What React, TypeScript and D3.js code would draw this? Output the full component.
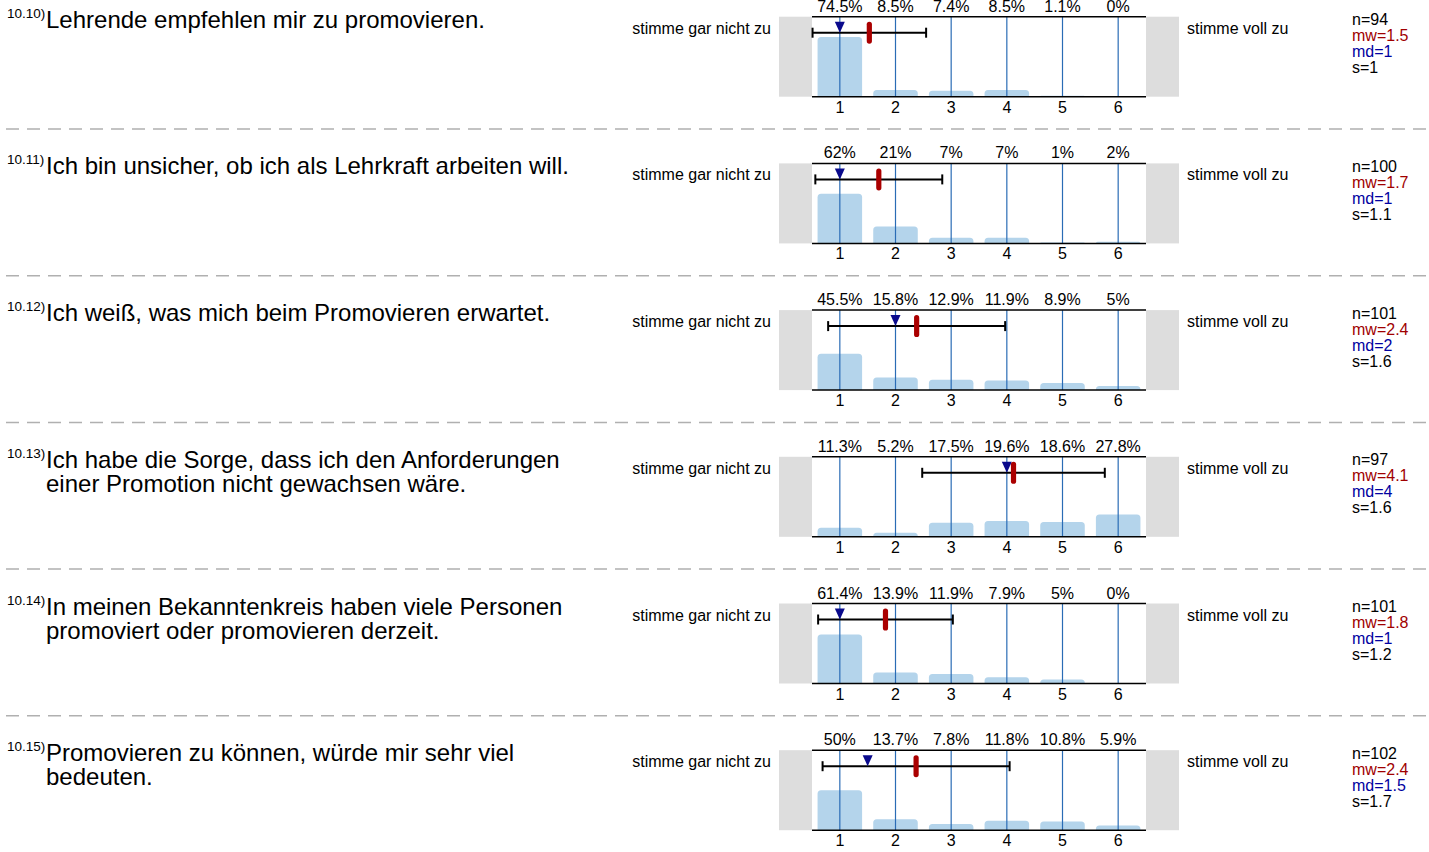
import React from "react";
import * as d3 from "d3";

const questionIds = ["10.10)", "10.11)", "10.12)", "10.13)", "10.14)", "10.15)"];
const questionTexts = [
  ["Lehrende empfehlen mir zu promovieren."],
  ["Ich bin unsicher, ob ich als Lehrkraft arbeiten will."],
  ["Ich weiß, was mich beim Promovieren erwartet."],
  ["Ich habe die Sorge, dass ich den Anforderungen", "einer Promotion nicht gewachsen wäre."],
  ["In meinen Bekanntenkreis haben viele Personen", "promoviert oder promovieren derzeit."],
  ["Promovieren zu können, würde mir sehr viel", "bedeuten."],
];
const categories = [1, 2, 3, 4, 5, 6];
const pctValues = [
  [74.5, 8.5, 7.4, 8.5, 1.1, 0],
  [62, 21, 7, 7, 1, 2],
  [45.5, 15.8, 12.9, 11.9, 8.9, 5],
  [11.3, 5.2, 17.5, 19.6, 18.6, 27.8],
  [61.4, 13.9, 11.9, 7.9, 5, 0],
  [50, 13.7, 7.8, 11.8, 10.8, 5.9],
];
const pctLabels = [
  ["74.5%", "8.5%", "7.4%", "8.5%", "1.1%", "0%"],
  ["62%", "21%", "7%", "7%", "1%", "2%"],
  ["45.5%", "15.8%", "12.9%", "11.9%", "8.9%", "5%"],
  ["11.3%", "5.2%", "17.5%", "19.6%", "18.6%", "27.8%"],
  ["61.4%", "13.9%", "11.9%", "7.9%", "5%", "0%"],
  ["50%", "13.7%", "7.8%", "11.8%", "10.8%", "5.9%"],
];
const meanValues = [1.53, 1.7, 2.38, 4.12, 1.82, 2.37];
const sdValues = [1.02, 1.14, 1.59, 1.64, 1.21, 1.68];
const medianValues = [1, 1, 2, 4, 1, 1.5];
const nLabels = ["n=94", "n=100", "n=101", "n=97", "n=101", "n=102"];
const mwLabels = ["mw=1.5", "mw=1.7", "mw=2.4", "mw=4.1", "mw=1.8", "mw=2.4"];
const mdLabels = ["md=1", "md=1", "md=2", "md=4", "md=1", "md=1.5"];
const sLabels = ["s=1", "s=1.1", "s=1.6", "s=1.6", "s=1.2", "s=1.7"];
const leftAnchor = "stimme gar nicht zu";
const rightAnchor = "stimme voll zu";

const W = 1429;
const H = 852;
const FONT = "'Liberation Sans', Arial, sans-serif";
const PANEL_TOP0 = 16.7;
const PANEL_STEP = 146.7;
const PLOT_H = 80;
const PLOT_L = 812;
const PLOT_R = 1146;
const FS = 16;

const xLin = d3.scaleLinear().domain([0.5, 6.5]).range([PLOT_L, PLOT_R]);
const step = xLin(2) - xLin(1);
const barW = step * 0.8;

function roundedTop(x: number, y: number, w: number, h: number, r: number) {
  if (h <= 0) return "";
  const rr = Math.min(r, h, w / 2);
  return `M${x},${y + h} L${x},${y + rr} Q${x},${y} ${x + rr},${y} L${x + w - rr},${y} Q${x + w},${y} ${x + w},${y + rr} L${x + w},${y + h} Z`;
}

function Panel({ i }: { i: number }) {
  const top = PANEL_TOP0 + i * PANEL_STEP;
  const bottom = top + PLOT_H;
  const y = d3.scaleLinear().domain([0, 100]).range([bottom, bottom - PLOT_H]);
  const ey = top + 16;
  const m = meanValues[i];
  const s = sdValues[i];
  const md = medianValues[i];
  const mx = xLin(m);
  const mdx = xLin(md);
  const lines = questionTexts[i];
  return (
    <g>
      <text x={7} y={top + 1} fontSize={13.5} fill="#000">{questionIds[i]}</text>
      {lines.map((t, k) => (
        <text key={k} x={46} y={top + 11 + k * 24} fontSize={24} fill="#000">{t}</text>
      ))}
      <text x={771} y={top + 17} fontSize={FS} textAnchor="end" fill="#000">{leftAnchor}</text>
      <text x={1187} y={top + 17} fontSize={FS} fill="#000">{rightAnchor}</text>
      <rect x={PLOT_L - 33} y={top} width={PLOT_R - PLOT_L + 66} height={PLOT_H} fill="#dddddd" />
      <rect x={PLOT_L} y={top} width={PLOT_R - PLOT_L} height={PLOT_H} fill="#ffffff" />
      {categories.map((c, k) => (
        <path key={"b" + k} d={roundedTop(xLin(c) - barW / 2, y(pctValues[i][k]), barW, bottom - y(pctValues[i][k]), 3.5)} fill="#b4d4eb" />
      ))}
      {categories.map((c, k) => (
        <line key={"v" + k} x1={xLin(c)} x2={xLin(c)} y1={top} y2={bottom} stroke="#2a6cb5" strokeWidth={1.2} />
      ))}
      <line x1={PLOT_L} x2={PLOT_R} y1={top} y2={top} stroke="#000" strokeWidth={1.5} />
      <line x1={PLOT_L} x2={PLOT_R} y1={bottom} y2={bottom} stroke="#000" strokeWidth={1.5} />
      {categories.map((c, k) => (
        <text key={"p" + k} x={xLin(c)} y={top - 5} fontSize={FS} textAnchor="middle" fill="#000">{pctLabels[i][k]}</text>
      ))}
      {categories.map((c, k) => (
        <text key={"t" + k} x={xLin(c)} y={bottom + 16} fontSize={FS} textAnchor="middle" fill="#000">{c}</text>
      ))}
      <line x1={xLin(m - s)} x2={xLin(m + s)} y1={ey} y2={ey} stroke="#000" strokeWidth={2} />
      <line x1={xLin(m - s)} x2={xLin(m - s)} y1={ey - 5} y2={ey + 5} stroke="#000" strokeWidth={2} />
      <line x1={xLin(m + s)} x2={xLin(m + s)} y1={ey - 5} y2={ey + 5} stroke="#000" strokeWidth={2} />
      <path d={`M${mdx - 5},${ey - 11} L${mdx + 5},${ey - 11} L${mdx},${ey} Z`} fill="#0a0a8c" />
      <rect x={mx - 2.6} y={ey - 11} width={5.2} height={22} rx={2.6} fill="#aa0000" />
      <text x={1352} y={top + 8.5} fontSize={FS} fill="#000">{nLabels[i]}</text>
      <text x={1352} y={top + 24.5} fontSize={FS} fill="#a00000">{mwLabels[i]}</text>
      <text x={1352} y={top + 40.5} fontSize={FS} fill="#0000a0">{mdLabels[i]}</text>
      <text x={1352} y={top + 56.5} fontSize={FS} fill="#000">{sLabels[i]}</text>
      {i < 5 && (
        <line x1={6} x2={W} y1={top + 112.3} y2={top + 112.3} stroke="#b0b0b0" strokeWidth={1.5} strokeDasharray="13,8" />
      )}
    </g>
  );
}

export default function App() {
  return (
    <svg width={W} height={H} style={{ position: "absolute", left: 0, top: 0, background: "#fff" }} fontFamily={FONT}>
      <rect x={0} y={0} width={W} height={H} fill="#fff" />
      {questionIds.map((_, i) => (
        <Panel key={i} i={i} />
      ))}
    </svg>
  );
}
